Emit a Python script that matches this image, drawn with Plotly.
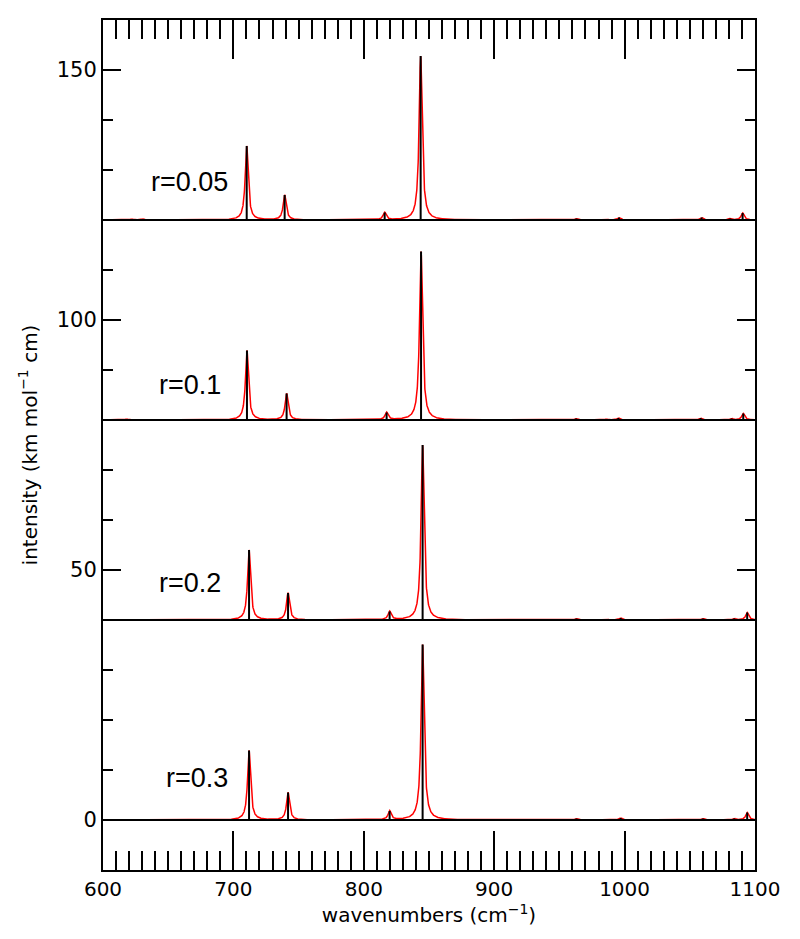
import numpy as np
import plotly.graph_objects as go

# ---- data ----
labels = ["r=0.05", "r=0.1", "r=0.2", "r=0.3"]
offsets = [120, 80, 40, 0]
label_x = [666, 667, 667, 672]
label_y = [127.6, 87.0, 47.4, 8.4]

pos_005 = [622, 631, 710.2, 739.3, 816.0, 843.6, 963, 986, 995.7, 1059, 1081, 1090.5]
int_005 = [0.2, 0.2, 14.8, 5.0, 1.5, 32.8, 0.3, 0.2, 0.5, 0.5, 0.3, 1.4]

pos_01 = [618, 710.4, 740.8, 817.5, 843.9, 962.7, 986, 995.2, 1052.4, 1058.3, 1082, 1091]
int_01 = [0.2, 13.9, 5.3, 1.5, 33.7, 0.3, 0.2, 0.4, 0.1, 0.4, 0.3, 1.3]

pos_02 = [712.0, 741.9, 819.8, 845.1, 963, 986, 997, 1060, 1084, 1094]
int_02 = [14.0, 5.4, 1.7, 35.0, 0.3, 0.2, 0.4, 0.3, 0.3, 1.5]

pos_03 = [712.0, 741.9, 819.8, 845.1, 963, 987, 997, 1060, 1084, 1094]
int_03 = [13.9, 5.5, 1.8, 35.1, 0.3, 0.2, 0.4, 0.3, 0.3, 1.5]

positions = [pos_005, pos_01, pos_02, pos_03]
intensities = [int_005, int_01, int_02, int_03]

x_ticks = [600, 700, 800, 900, 1000, 1100]
y_ticks = [0, 50, 100, 150]

hwhm = 1.4  # Lorentzian half width (cm-1)

fig = go.Figure()
grid = np.arange(600, 1100.01, 0.1)

for lab, off, lx, ly, ps, its in zip(labels, offsets, label_x, label_y, positions, intensities):
    # broadened spectrum
    spec = np.zeros_like(grid)
    for p, h in zip(ps, its):
        spec += h * hwhm**2 / ((grid - p) ** 2 + hwhm**2)
    fig.add_trace(go.Scatter(x=grid, y=spec + off, mode="lines",
                             line=dict(color="red", width=1.5)))
    # baseline
    fig.add_trace(go.Scatter(x=[600, 1100], y=[off, off], mode="lines",
                             line=dict(color="black", width=1.8), hoverinfo="skip"))
    # sticks
    sx, sy = [], []
    for p, h in zip(ps, its):
        sx += [p, p, None]
        sy += [off, off + h, None]
    fig.add_trace(go.Scatter(x=sx, y=sy, mode="lines",
                             line=dict(color="black", width=2)))
    fig.add_annotation(x=lx, y=ly, text=lab, showarrow=False,
                       xanchor="center", yanchor="middle",
                       font=dict(family="Liberation Sans, Arial", size=27, color="black"))

fig.update_layout(
    width=800, height=939,
    margin=dict(l=95, r=53, t=10, b=77),
    plot_bgcolor="white", paper_bgcolor="white",
    showlegend=False,
    font=dict(family="DejaVu Sans", color="black", size=20),
)
fig.update_xaxes(
    range=[600, 1100], tickvals=x_ticks, ticks="inside", ticklen=39, tickwidth=1.5,
    tickcolor="black", showline=True, linecolor="black", linewidth=2, mirror="ticks",
    showgrid=False, zeroline=False,
    minor=dict(dtick=10, tick0=600, ticks="inside", ticklen=19, tickwidth=1.5, tickcolor="black", showgrid=False),
    title=dict(text="wavenumbers (cm<sup>−1</sup>)", font=dict(size=20), standoff=3),
    tickfont=dict(size=20),
)
fig.update_yaxes(
    range=[-10, 160], tickvals=y_ticks, ticks="inside", ticklen=18, tickwidth=1.5,
    tickcolor="black", showline=True, linecolor="black", linewidth=2, mirror="ticks",
    showgrid=False, zeroline=False,
    minor=dict(dtick=10, tick0=0, ticks="inside", ticklen=10, tickwidth=1.5, tickcolor="black", showgrid=False),
    title=dict(text="intensity (km mol<sup>−1</sup> cm)", font=dict(size=20), standoff=14),
    tickfont=dict(size=21),
)

fig.write_html("out.html")
